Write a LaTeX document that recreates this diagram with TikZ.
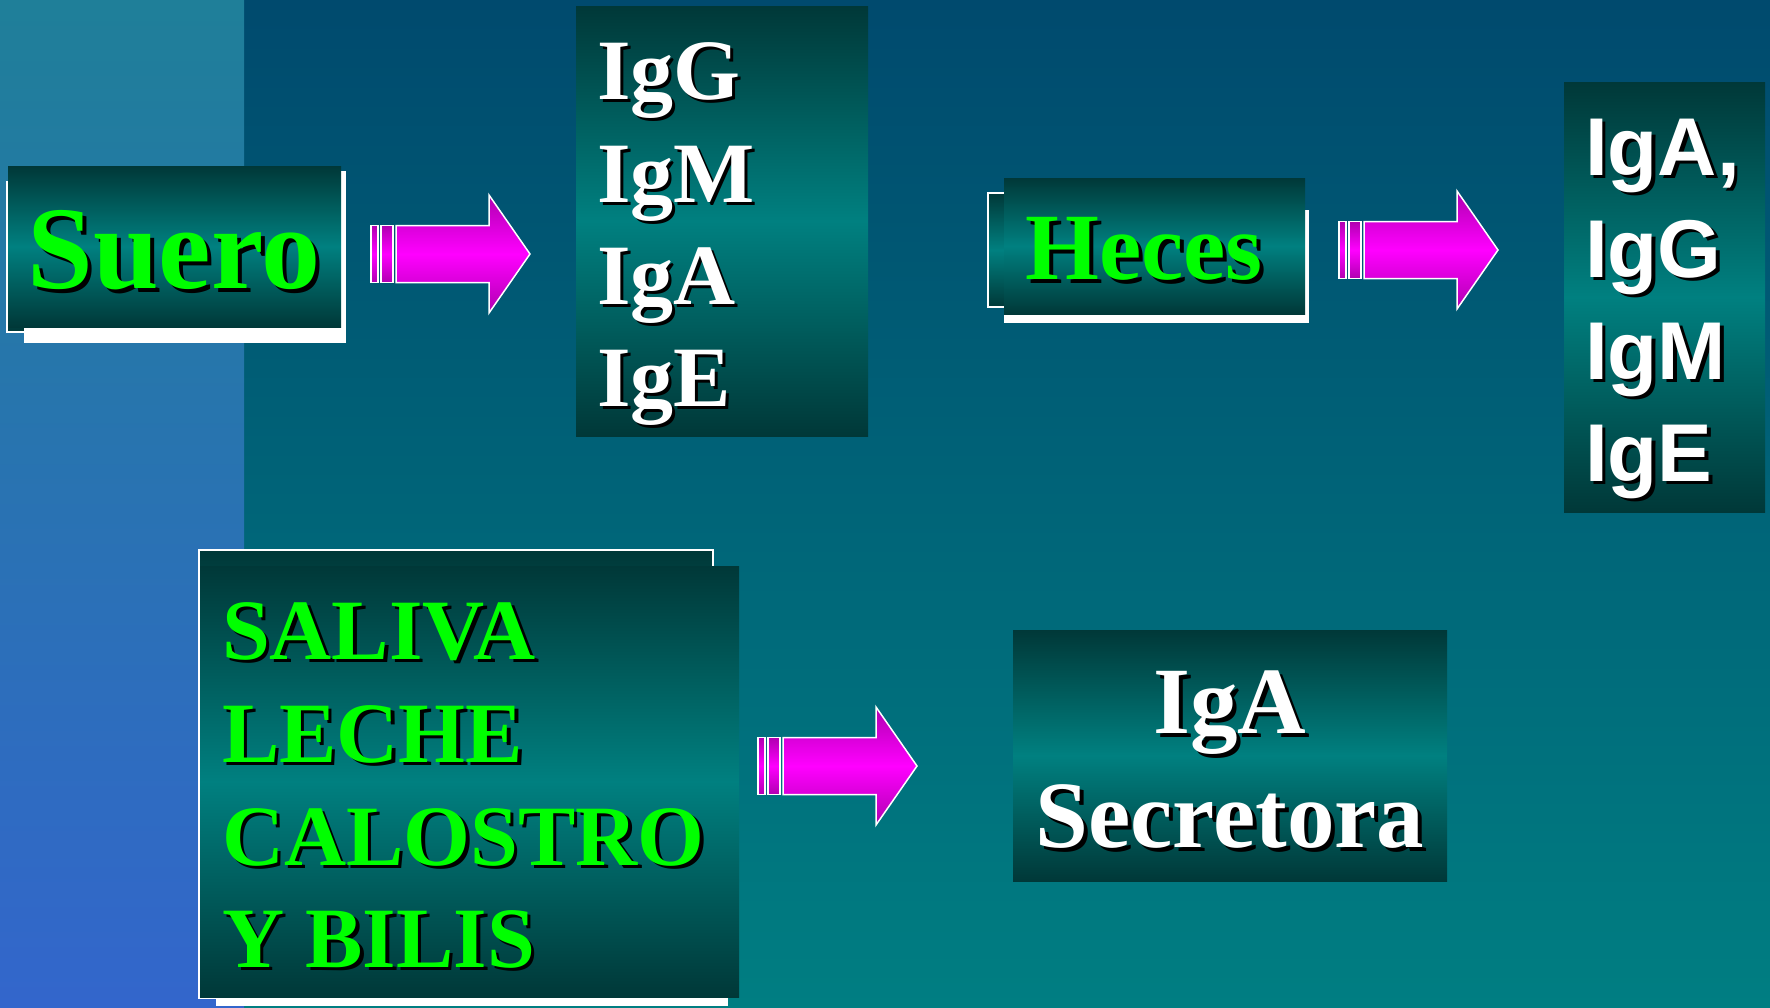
\documentclass[tikz,border=0pt]{standalone}
\usepackage{fontspec}
\setmainfont{Liberation Serif}
\newfontfamily\sansbold{Liberation Sans}
\definecolor{bgtop}{HTML}{004A6E}
\definecolor{bgbot}{HTML}{007E82}
\definecolor{striptop}{HTML}{1F7F99}
\definecolor{stripbot}{HTML}{3366CC}
\definecolor{boxdark}{HTML}{003838}
\definecolor{boxmid}{HTML}{008080}
\definecolor{arrdark}{HTML}{B000B0}
\definecolor{lgreen}{HTML}{00FF00}
\tikzset{
  panel/.style={rectangle, inner sep=0pt, outer sep=0pt, top color=boxdark, bottom color=boxdark, middle color=boxmid},
  txt/.style={inner sep=0pt, outer sep=0pt},
  blockarrow/.style={draw=white, line width=1.5pt, top color=arrdark, bottom color=arrdark, middle color=magenta},
  whiteshadow/.style={fill=white, draw=none},
}
% name, x1, y1, x2, y2, extra
\newcommand{\mypanel}[6]{%
  \node[panel, minimum width={(#4-#2)*1pt}, minimum height={(#5-#3)*1pt}, #6] (#1) at ({(#2+#4)/2},{(#3+#5)/2}) {};}
% text with a black drop shadow, in one node: offset, text
\newcommand{\withshadow}[2]{\rlap{\hspace{#1}\raisebox{-#1}{\textcolor{black}{#2}}}#2}
% name, x, y, anchor, style, offset, text
\newcommand{\sdtext}[7]{%
  \node[txt, #5, anchor=#4] (#1) at (#2,#3) {\withshadow{#6pt}{#7}};}
% x0, cy
\newcommand{\myarrow}[2]{%
  \shadedraw[blockarrow] (#1,{#2-28.5}) rectangle ({#1+7},{#2+28.5});
  \shadedraw[blockarrow] ({#1+10},{#2-28.5}) rectangle ({#1+22},{#2+28.5});
  \shadedraw[blockarrow] ({#1+25},{#2-28.5}) -- ({#1+118},{#2-28.5}) -- ({#1+118},{#2-59})
     -- ({#1+159},#2) -- ({#1+118},{#2+59}) -- ({#1+118},{#2+28.5}) -- ({#1+25},{#2+28.5}) -- cycle;}
\begin{document}
\begin{tikzpicture}[x=1pt,y=-1pt]
\useasboundingbox (0,0) rectangle (1770,1007);
% background
\shade[top color=bgtop, bottom color=bgbot] (244,0) rectangle (1770,1007);
\shade[top color=striptop, bottom color=stripbot] (0,0) rectangle (244,1007);

% Suero
\mypanel{suerob}{7}{182}{344}{332}{draw=white, line width=1.2pt}
\fill[whiteshadow] (24,171) rectangle (346,343);
\mypanel{suero}{8}{166}{341}{327}{}
\sdtext{tsuero}{174}{288}{base}{text=lgreen, font=\fontsize{118}{118}\selectfont\bfseries}{4}{Suero}

% arrow 1
\myarrow{371}{254}

% IgG box
\mypanel{igbox}{576}{6}{868}{436}{}
\sdtext{ig1}{597}{99}{base west}{text=white, font=\fontsize{86}{86}\selectfont\bfseries}{3.5}{IgG}
\sdtext{ig2}{597}{202}{base west}{text=white, font=\fontsize{86}{86}\selectfont\bfseries}{3.5}{IgM}
\sdtext{ig3}{597}{304}{base west}{text=white, font=\fontsize{86}{86}\selectfont\bfseries}{3.5}{IgA}
\sdtext{ig4}{597}{406}{base west}{text=white, font=\fontsize{86}{86}\selectfont\bfseries}{3.5}{IgE}

% Heces
\mypanel{hecesb}{988}{193}{1300}{307}{draw=white, line width=1.2pt}
\fill[whiteshadow] (1004,210) rectangle (1309,323);
\mypanel{heces}{1004}{178}{1305}{314}{}
\sdtext{theces}{1144}{279}{base}{text=lgreen, font=\fontsize{95}{95}\selectfont\bfseries}{4}{Heces}

% arrow 2
\myarrow{1339}{250}

% right box
\mypanel{rbox}{1564}{82}{1765}{512}{}
\sdtext{r1}{1585}{175}{base west}{text=white, font=\fontsize{82}{82}\sansbold\bfseries}{3.5}{IgA,}
\sdtext{r2}{1585}{277}{base west}{text=white, font=\fontsize{82}{82}\sansbold\bfseries}{3.5}{IgG}
\sdtext{r3}{1585}{379}{base west}{text=white, font=\fontsize{82}{82}\sansbold\bfseries}{3.5}{IgM}
\sdtext{r4}{1585}{481}{base west}{text=white, font=\fontsize{82}{82}\sansbold\bfseries}{3.5}{IgE}

% Saliva box
\fill[whiteshadow] (216,990) rectangle (728,1006);
\mypanel{salivab}{199}{550}{713}{998}{draw=white, line width=1.2pt}
\mypanel{saliva}{200}{566}{739}{997}{}
\sdtext{s1}{222}{659}{base west}{text=lgreen, font=\fontsize{86}{86}\selectfont\bfseries}{3.5}{SALIVA}
\sdtext{s2}{222}{762}{base west}{text=lgreen, font=\fontsize{86}{86}\selectfont\bfseries}{3.5}{LECHE}
\sdtext{s3}{222}{865}{base west}{text=lgreen, font=\fontsize{86}{86}\selectfont\bfseries}{3.5}{CALOSTRO}
\sdtext{s4}{222}{967}{base west}{text=lgreen, font=\fontsize{86}{86}\selectfont\bfseries}{3.5}{Y BILIS}

% arrow 3
\myarrow{758}{766}

% IgA Secretora
\mypanel{secbox}{1013}{630}{1447}{881}{}
\sdtext{sec1}{1230}{733}{base}{text=white, font=\fontsize{95}{95}\selectfont\bfseries}{4}{IgA}
\sdtext{sec2}{1230}{847}{base}{text=white, font=\fontsize{95}{95}\selectfont\bfseries}{4}{Secretora}
\end{tikzpicture}
\end{document}
